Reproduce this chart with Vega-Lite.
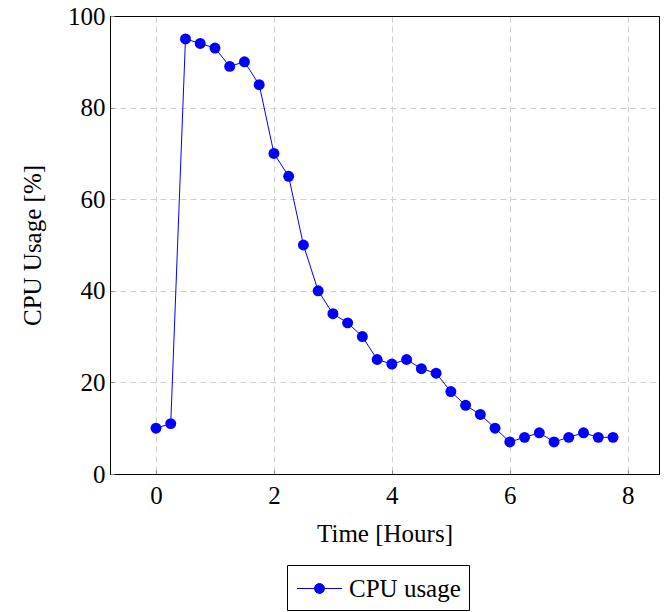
{
  "$schema": "https://vega.github.io/schema/vega-lite/v6.json",
  "autosize": {"type": "none"},
  "padding": {"left": 110, "top": 16, "right": 5, "bottom": 138},
  "width": 549,
  "height": 458,
  "config": {
    "font": "Liberation Serif",
    "view": {"stroke": "black", "strokeWidth": 1},
    "axis": {
      "labelFont": "Liberation Serif",
      "titleFont": "Liberation Serif",
      "labelFontSize": 25,
      "titleFontSize": 25,
      "labelColor": "black",
      "titleColor": "black",
      "titleFontWeight": "normal",
      "domain": true,
      "domainColor": "black",
      "domainWidth": 1,
      "grid": true,
      "gridWidth": 1,
      "ticks": true,
      "tickSize": -4,
      "tickColor": "#888888",
      "tickWidth": 1
    },
    "legend": {
      "labelFont": "Liberation Serif",
      "labelFontSize": 25,
      "labelColor": "black"
    }
  },
  "data": {
    "values": [
      {"t": 0, "cpu": 10, "series": "CPU usage"},
      {"t": 0.25, "cpu": 11, "series": "CPU usage"},
      {"t": 0.5, "cpu": 95, "series": "CPU usage"},
      {"t": 0.75, "cpu": 94, "series": "CPU usage"},
      {"t": 1, "cpu": 93, "series": "CPU usage"},
      {"t": 1.25, "cpu": 89, "series": "CPU usage"},
      {"t": 1.5, "cpu": 90, "series": "CPU usage"},
      {"t": 1.75, "cpu": 85, "series": "CPU usage"},
      {"t": 2, "cpu": 70, "series": "CPU usage"},
      {"t": 2.25, "cpu": 65, "series": "CPU usage"},
      {"t": 2.5, "cpu": 50, "series": "CPU usage"},
      {"t": 2.75, "cpu": 40, "series": "CPU usage"},
      {"t": 3, "cpu": 35, "series": "CPU usage"},
      {"t": 3.25, "cpu": 33, "series": "CPU usage"},
      {"t": 3.5, "cpu": 30, "series": "CPU usage"},
      {"t": 3.75, "cpu": 25, "series": "CPU usage"},
      {"t": 4, "cpu": 24, "series": "CPU usage"},
      {"t": 4.25, "cpu": 25, "series": "CPU usage"},
      {"t": 4.5, "cpu": 23, "series": "CPU usage"},
      {"t": 4.75, "cpu": 22, "series": "CPU usage"},
      {"t": 5, "cpu": 18, "series": "CPU usage"},
      {"t": 5.25, "cpu": 15, "series": "CPU usage"},
      {"t": 5.5, "cpu": 13, "series": "CPU usage"},
      {"t": 5.75, "cpu": 10, "series": "CPU usage"},
      {"t": 6, "cpu": 7, "series": "CPU usage"},
      {"t": 6.25, "cpu": 8, "series": "CPU usage"},
      {"t": 6.5, "cpu": 9, "series": "CPU usage"},
      {"t": 6.75, "cpu": 7, "series": "CPU usage"},
      {"t": 7, "cpu": 8, "series": "CPU usage"},
      {"t": 7.25, "cpu": 9, "series": "CPU usage"},
      {"t": 7.5, "cpu": 8, "series": "CPU usage"},
      {"t": 7.75, "cpu": 8, "series": "CPU usage"}
    ]
  },
  "encoding": {
    "x": {
      "field": "t",
      "type": "quantitative",
      "title": "Time [Hours]",
      "scale": {"domain": [-0.78, 8.53], "nice": false, "zero": false},
      "axis": {
        "values": [0, 2, 4, 6, 8],
        "labelPadding": 13,
        "titlePadding": 13,
        "gridColor": "#d0d0d0",
        "gridDash": [6, 4]
      }
    },
    "y": {
      "field": "cpu",
      "type": "quantitative",
      "title": "CPU Usage [%]",
      "scale": {"domain": [0, 100], "nice": false},
      "axis": {
        "values": [0, 20, 40, 60, 80, 100],
        "labelPadding": 9,
        "titlePadding": 22,
        "gridColor": {"condition": {"test": "datum.value >= 100 || datum.value <= 0", "value": "black"}, "value": "#d0d0d0"},
        "gridDash": {"condition": {"test": "datum.value >= 100 || datum.value <= 0", "value": []}, "value": [6, 4]}
      }
    },
    "color": {
      "field": "series",
      "type": "nominal",
      "scale": {"range": ["#0000ff"]},
      "legend": {
        "title": null,
        "orient": "none",
        "legendX": 177,
        "legendY": 549,
        "direction": "horizontal",
        "strokeColor": "black",
        "padding": 8,
        "symbolType": "M-1.5,0L1.5,0M0.33,0A0.33,0.33 0 1 1 -0.33,0A0.33,0.33 0 1 1 0.33,0Z",
        "symbolSize": 900,
        "symbolOffset": 9,
        "symbolStrokeWidth": 1,
        "symbolFillColor": "#0000e0",
        "symbolStrokeColor": "#0000ff",
        "symbolOpacity": 1,
        "labelOffset": 14,
        "cornerRadius": 0
      }
    }
  },
  "mark": {
    "type": "line",
    "strokeWidth": 1,
    "point": {"filled": true, "size": 120, "color": "#0000e0", "opacity": 1}
  }
}
